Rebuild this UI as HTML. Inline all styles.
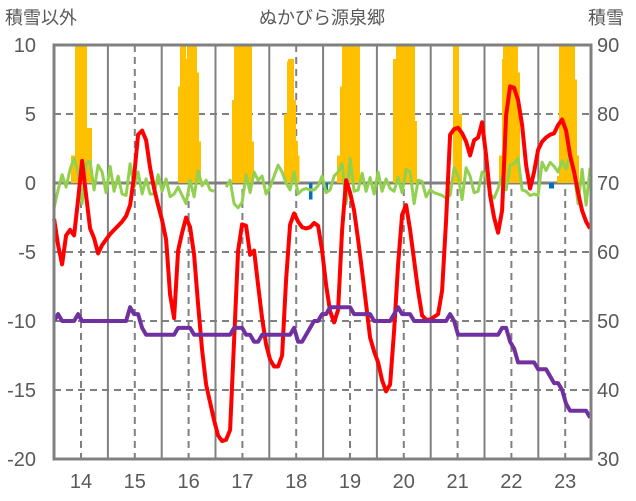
<!DOCTYPE html>
<html><head><meta charset="utf-8">
<style>
html,body{margin:0;padding:0;background:#fff;}
svg{display:block;font-family:"Liberation Sans","Noto Sans CJK JP",sans-serif;}
</style></head>
<body>
<svg id="chart" width="636" height="501" viewBox="0 0 636 501" xmlns="http://www.w3.org/2000/svg">
<text x="5" y="24" font-size="18" fill="#595959">積雪以外</text>
<text x="322" y="24" font-size="18" fill="#595959" text-anchor="middle">ぬかびら源泉郷</text>
<text x="588" y="24" font-size="18" fill="#595959">積雪</text>
<g id="grid"></g>
<g id="bars" shape-rendering="crispEdges"></g>
<g id="lines"></g>
<g id="axes"></g>
</svg>
<script>
const xTickLabels = ["14","15","16","17","18","19","20","21","22","23"];
const leftTicks = [10,5,0,-5,-10,-15,-20];
const rightTicks = [90,80,70,60,50,40,30];
const startYear = 13.5;
const stepYear = 0.07435;
// snow bars: start year, end year, value (left-axis units)
const barStart = [13.814,13.888,13.944,13.963,14.093, 15.803,15.84,15.933,15.97,16.138,16.175, 16.807,16.844,17.16, 17.773,17.829,17.848,17.941,17.978,18.015, 18.758,18.814,18.851, 19.80,19.855,20.19, 20.914,21.007, 21.77,21.825,21.844,22.104, 22.848,22.885,23.164,23.2, 18.24,18.5,18.54,22.7,22.74];
const barEnd   = [13.888,13.944,13.963,14.093,14.186, 15.84,15.933,15.97,16.138,16.175,16.212, 16.844,17.16,17.197, 17.829,17.848,17.941,17.978,18.015,18.05, 18.814,18.851,19.167, 19.855,20.19,20.227, 21.007,21.063, 21.825,21.844,22.104,22.141, 22.885,23.164,23.2,23.24, 18.29,18.54,18.58,22.74,22.78];
const barVal   = [2,11,8,11,4, 7,11,9,11,8,3, 6,11,3, 5,8.8,9,6,3,2, 2,7,11, 9,11,4.5, 11,5, 2,9,11,8, 0.5,11,7.5,2, -1.2,-0.5,-0.5,-0.4,-0.4];
const redVals = [-2.6,-4.5,-5.9,-3.8,-3.4,-3.8,-1.2,1.6,-0.9,-3.3,-4.0,-5.1,-4.5,-4.1,-3.7,-3.4,-3.1,-2.8,-2.4,-1.6,0.5,3.5,3.8,3.1,1.1,-0.4,-1.6,-2.7,-4.1,-8.1,-9.8,-4.9,-3.6,-2.5,-3.2,-5.2,-8.8,-12.1,-14.6,-15.9,-17.2,-18.3,-18.7,-18.6,-17.9,-11.4,-4.9,-3.0,-3.1,-5.2,-4.9,-7.4,-9.8,-11.7,-12.8,-13.3,-13.3,-12.5,-7.0,-3.0,-2.2,-2.8,-3.2,-3.3,-3.2,-2.9,-3.1,-4.9,-7.4,-9.3,-10.1,-9.2,-3.4,0.2,-0.7,-2.0,-4.1,-6.4,-8.8,-11.2,-12.2,-13.0,-14.3,-15.1,-14.6,-10.7,-5.9,-2.3,-1.6,-3.4,-5.6,-7.8,-9.6,-9.9,-9.9,-9.7,-9.5,-7.8,-2.7,3.5,3.9,4.0,3.6,3.0,2.0,3.1,3.3,4.4,2.0,-0.9,-2.5,-3.6,-2.0,4.9,7.0,6.9,6.0,4.2,1.3,-0.4,0.8,2.4,3.0,3.3,3.5,3.6,4.2,4.6,3.8,2.0,0.8,-0.7,-2.0,-2.8,-3.3];
const greenVals = [-1.8,-0.5,0.6,-0.3,1,1.8,0.8,-1.5,1.4,1.6,-0.5,1.3,0.8,-0.7,1.2,-0.6,0.5,-0.8,-0.9,1.4,-0.3,0.8,-0.8,0.3,-0.8,-0.8,0.6,-0.6,0.3,-1,-0.8,-0.3,-0.9,-1.5,0.2,-1,0.9,-0.2,0.2,-0.5,-0.6,null,null,-0.3,0.2,-1.5,-1.8,-1.4,0.6,-0.7,0.8,0.2,0.5,-0.8,-0.3,0.5,1.3,0.8,0,-0.5,0.8,-0.8,-0.5,-0.4,-0.5,-0.5,-0.2,0.5,-0.7,-0.5,0.5,0.8,1.4,-1.5,1.8,-0.6,-0.5,0.7,-0.6,0.4,-0.8,0.8,-0.6,0.3,-0.4,-0.6,0.4,-0.7,1,0.8,-1.5,0.2,0.1,-1,-0.5,-0.7,-0.8,-0.9,-1.1,-0.9,1.1,0.5,-1.2,1.1,0.5,-0.7,-0.6,0.8,0.5,-0.8,-1.1,-0.4,0.5,-0.5,1.3,1.4,1.8,-0.5,-0.6,-0.9,-0.8,-0.9,1.5,0.9,1.5,1.2,0.8,1.6,1.0,2.1,0.8,-1.5,1.0,-1.6,1.1];
const purpleVals = [50,51,50,50,50,50,51,50,50,50,50,50,50,50,50,50,50,50,50,52,51,51,49,48,48,48,48,48,48,48,48,49,49,49,49,48,48,48,48,48,48,48,48,48,48,49,49,49,48,48,47,47,48,48,48,48,48,48,48,48,49,47,47,48,49,50,50,51,51,52,52,52,52,52,52,51,51,51,51,51,50,50,50,50,50,51,52,51,51,51,50,50,50,50,50,50,50,50,50,51,50,48,48,48,48,48,48,48,48,48,48,48,49,49,47,46,44,44,44,44,44,43,43,43,42,41,41,40,38,37,37,37,37,37,36];

const NS='http://www.w3.org/2000/svg';
const L=54,R=591,T=45,B=459;
function xs(t){return 81+(t-14)*53.8;}
function yl(v){return 183-v*13.8;}
function yr(v){return yl((v-70)/2);}
function tAt(i){return startYear+i*stepYear;}
function mk(tag,attrs,parent){const e=document.createElementNS(NS,tag);for(const k in attrs)e.setAttribute(k,attrs[k]);parent.appendChild(e);return e;}
const grid=document.getElementById('grid'),bars=document.getElementById('bars'),lines=document.getElementById('lines'),axes=document.getElementById('axes');
leftTicks.forEach(v=>{if(v===0||v===10||v===-20)return;
  const e=mk('line',{x1:L,x2:R,y1:yl(v),y2:yl(v),stroke:'#808080','stroke-width':2,'stroke-dasharray':'7,5'},grid);
  
  });
xTickLabels.forEach((lab,i)=>{const yr0=14+i;
  const d=mk('line',{x1:xs(yr0),x2:xs(yr0),y1:T,y2:B,stroke:'#808080','stroke-width':2,'stroke-dasharray':'7,5'},grid);
  
  
  if(i<xTickLabels.length-1){const s=mk('line',{x1:xs(yr0+0.5),x2:xs(yr0+0.5),y1:T,y2:B,stroke:'#808080','stroke-width':2},grid);
  
  }
  const tx=mk('text',{x:xs(yr0),y:488,'font-size':20,fill:'#595959','text-anchor':'middle'},axes);tx.textContent=lab;
  
  });
barVal.forEach((v,i)=>{const x0=xs(barStart[i]),x1=xs(barEnd[i]);const vv=Math.min(v,10.1);
  const y0=yl(Math.max(vv,0)),y1=yl(Math.min(vv,0));
  const r=mk('rect',{x:x0,y:Math.max(y0,T),width:x1-x0+0.8,height:y1-Math.max(y0,T),fill:v>=0?'#FFC000':'#0070C0'},bars);
  
  });
const z=mk('line',{x1:L,x2:R,y1:yl(0),y2:yl(0),stroke:'#808080','stroke-width':3},grid);


function path(vals,yf){let d='',pen=false;vals.forEach((v,i)=>{if(v===null){pen=false;return;}d+=(pen?'L':'M')+xs(tAt(i)).toFixed(1)+','+yf(v).toFixed(1);pen=true;});return d;}
const g=mk('path',{d:path(greenVals,yl),fill:'none',stroke:'#92D050','stroke-width':3,'stroke-linejoin':'round'},lines);


const r=mk('path',{d:path(redVals,yl),fill:'none',stroke:'#FF0000','stroke-width':4,'stroke-linejoin':'round'},lines);


const p=mk('path',{d:path(purpleVals,yr),fill:'none',stroke:'#7030A0','stroke-width':4,'stroke-linejoin':'round'},lines);


const f=mk('rect',{x:L,y:T,width:R-L,height:B-T,fill:'none',stroke:'#808080','stroke-width':3},axes);


leftTicks.forEach(v=>{const t=mk('text',{x:36,y:yl(v)+7,'font-size':20,fill:'#595959','text-anchor':'end'},axes);t.textContent=String(v);
  
  });
rightTicks.forEach(v=>{const t=mk('text',{x:597,y:yr(v)+7,'font-size':20,fill:'#595959'},axes);t.textContent=String(v);
  
  });
</script>
</body></html>
